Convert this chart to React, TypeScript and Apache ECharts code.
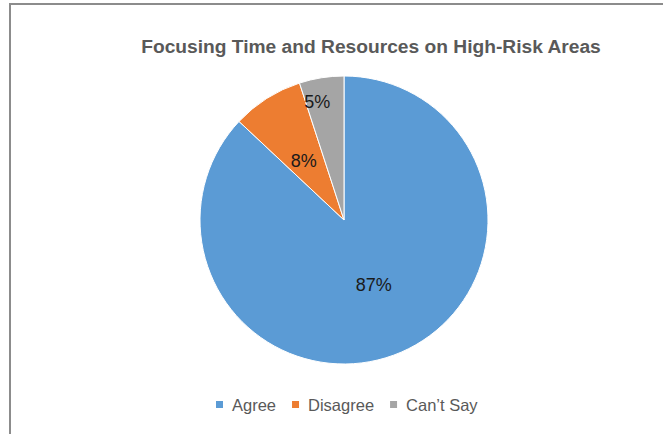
import React, { useEffect, useRef } from "react";
import * as echarts from "echarts";

const categories = ["Agree", "Disagree", "Can\u2019t Say"];
const values = [87, 8, 5];
const colors = ["#5B9BD5", "#ED7D31", "#A5A5A5"];
const titleText = "Focusing Time and Resources on High-Risk Areas";

export default function App() {
  const ref = useRef<HTMLDivElement>(null);
  useEffect(() => {
    document.body.style.margin = "0";
    const chart = echarts.init(ref.current!, null, { renderer: "svg" });
    const labelOffsets: Record<number, number[]> = { 0: [0, -4], 1: [0, 4], 2: [-15, -44] };
    chart.setOption({
      animation: false,
      backgroundColor: "#ffffff",
      title: {
        text: titleText,
        left: 366,
        top: 32,
        textAlign: "center",
        textStyle: {
          fontFamily: "Liberation Sans",
          fontSize: 19.2,
          fontWeight: "bold",
          color: "#595959",
        },
      },
      legend: {
        bottom: 16,
        left: 209,
        data: categories,
        icon: "rect",
        itemWidth: 9,
        itemHeight: 9,
        itemGap: 14,
        textStyle: {
          fontFamily: "Liberation Sans",
          fontSize: 16.5,
          color: "#595959",
          padding: [0, 0, 0, 3],
        },
      },
      graphic: [
        {
          type: "rect",
          shape: { x: 10, y: 4, width: 700, height: 500 },
          style: { fill: "none", stroke: "#8c8c8c", lineWidth: 2 },
          silent: true,
        },
      ],
      series: [
        {
          type: "pie",
          center: [344, 220],
          radius: [0, 144],
          startAngle: 90,
          clockwise: true,
          itemStyle: { borderColor: "#ffffff", borderWidth: 1 },
          label: {
            show: true,
            position: "inside",
            formatter: "{c}%",
            fontFamily: "Liberation Sans",
            fontSize: 18,
            color: "#1a1a1a",
          },
          labelLine: { show: false },
          data: categories.map((name, i) => ({
            name,
            value: values[i],
            itemStyle: { color: colors[i] },
            label: labelOffsets[i] ? { offset: labelOffsets[i] } : undefined,
          })),
        },
      ],
    });
    return () => chart.dispose();
  }, []);
  return <div ref={ref} style={{ width: 663, height: 434 }} />;
}
